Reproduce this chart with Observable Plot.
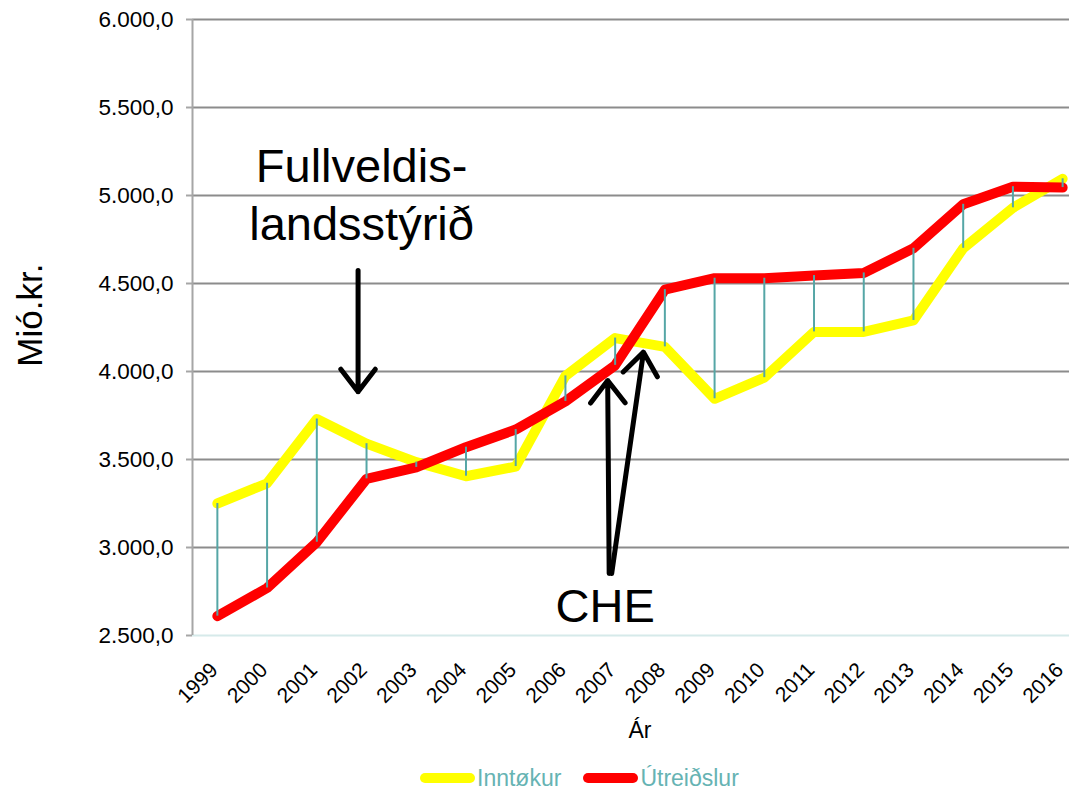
<!DOCTYPE html>
<html><head><meta charset="utf-8">
<script src="https://cdn.jsdelivr.net/npm/d3@7"></script>
<script src="https://cdn.jsdelivr.net/npm/@observablehq/plot@0.6"></script>
<style>
body{margin:0;background:#fff;font-family:"Liberation Sans",Arial,sans-serif;}
#wrap{position:relative;width:1069px;height:790px;overflow:hidden;background:#fff;}
#chart svg{display:block;}
#legend{position:absolute;left:420px;top:765px;display:flex;align-items:center;font-size:23px;color:#66b3b3;line-height:26px;}
.sw{display:inline-block;width:55px;height:10px;border-radius:5px;margin-right:2px;}
.item{display:flex;align-items:center;margin-right:22px;}
</style></head><body>
<div id="wrap"><div id="chart"></div><div id="legend"></div></div>
<script>
const years = [1999,2000,2001,2002,2003,2004,2005,2006,2007,2008,2009,2010,2011,2012,2013,2014,2015,2016];
const inntokur = [3250,3365,3730,3590,3485,3405,3460,3975,4190,4140,3845,3965,4225,4225,4290,4700,4930,5095];
const utreidslur = [2610,2770,3030,3390,3455,3570,3670,3830,4035,4465,4530,4530,4545,4560,4700,4950,5050,5045];
const yTicks = [2500,3000,3500,4000,4500,5000,5500,6000];
const seriesNames = ["Inntøkur","Útreiðslur"];
const seriesColors = ["#ffff00","#ff0000"];
const yLabel = "Mió.kr.";
const xLabel = "Ár";
const annotTexts = [
  {label:"Fullveldis-", x:2001.9, y:5160},
  {label:"landsstýrið", x:2001.9, y:4830},
  {label:"CHE", x:2006.8, y:2660}
];
const annotArrows = [
  {x1:2001.83, y1:4574, x2:2001.83, y2:3885},
  {x1:2006.88, y1:2852, x2:2006.85, y2:3949},
  {x1:2006.93, y1:2852, x2:2007.57, y2:4110}
];

const data = years.map((yr,i)=>({year:yr, inn:inntokur[i], utr:utreidslur[i]}));
const xDomain = [years[0]-0.5, years[years.length-1]+0.5];
const xMid = (xDomain[0]+xDomain[1])/2;
const loc = d3.formatLocale({decimal:",", thousands:".", grouping:[3], currency:["",""]});
const fmt = loc.format(",.1f");
const font = "Liberation Sans, Arial, sans-serif";

const plot = Plot.plot({
  width: 1069, height: 760,
  marginTop: 19, marginBottom: 125, marginLeft: 192, marginRight: 0,
  style: {fontFamily: font, background: "#fff", overflow: "visible", color: "#000"},
  x: {domain: xDomain, range: [192, 1087], axis: null},
  y: {domain: [yTicks[0], yTicks[yTicks.length-1]], axis: null},
  marks: [
    Plot.ruleY(yTicks.slice(1), {x1: xDomain[0], x2: xDomain[1], stroke: "#8c8c8c", strokeWidth: 2}),
    Plot.ruleY([yTicks[0]], {x1: xDomain[0], x2: xDomain[1], stroke: "#d6eaea", strokeWidth: 2}),
    Plot.axisY({ticks: yTicks, tickFormat: fmt, tickSize: 6, tickPadding: 13, fontSize: 22.5, stroke: "#a6a6a6", strokeWidth: 2, label: null, fontFamily: font}),
    Plot.ruleX([xDomain[0]], {y1: yTicks[0], y2: yTicks[yTicks.length-1], stroke: "#a6a6a6", strokeWidth: 2}),
    Plot.axisX({ticks: years, tickFormat: d => String(d), tickRotate: -45, tickSize: 0, tickPadding: 31, dx: -3, fontSize: 21, label: null, fontFamily: font}),
    Plot.text([xLabel], {x: xMid, y: yTicks[0], dy: 95, fontSize: 23, fontFamily: font, fill: "#000"}),
    Plot.text([yLabel], {frameAnchor: "left", y: 4320, dx: -162, rotate: -90, textAnchor: "middle", fontSize: 35, fontFamily: font, fill: "#000"}),
    Plot.line(data, {x: "year", y: "inn", stroke: seriesColors[0], strokeWidth: 10, strokeLinecap: "round", strokeLinejoin: "round"}),
    Plot.line(data, {x: "year", y: "utr", stroke: seriesColors[1], strokeWidth: 10, strokeLinecap: "round", strokeLinejoin: "round"}),
    Plot.ruleX(data, {x: "year", y1: "inn", y2: "utr", stroke: "#55a6a6", strokeWidth: 2}),
    Plot.arrow(annotArrows, {x1: "x1", y1: "y1", x2: "x2", y2: "y2", stroke: "#000", strokeWidth: 5, headLength: 8.5, headAngle: 75}),
    Plot.text(annotTexts, {x: "x", y: "y", text: "label", fontSize: 47, fontFamily: font, fill: "#000"})
  ]
});
document.getElementById("chart").appendChild(plot);

const legend = document.getElementById("legend");
seriesNames.forEach((n,i)=>{
  const it = document.createElement("div"); it.className = "item";
  const sw = document.createElement("span"); sw.className = "sw"; sw.style.background = seriesColors[i];
  const t = document.createElement("span"); t.textContent = n;
  it.appendChild(sw); it.appendChild(t); legend.appendChild(it);
});
</script>
</body></html>
